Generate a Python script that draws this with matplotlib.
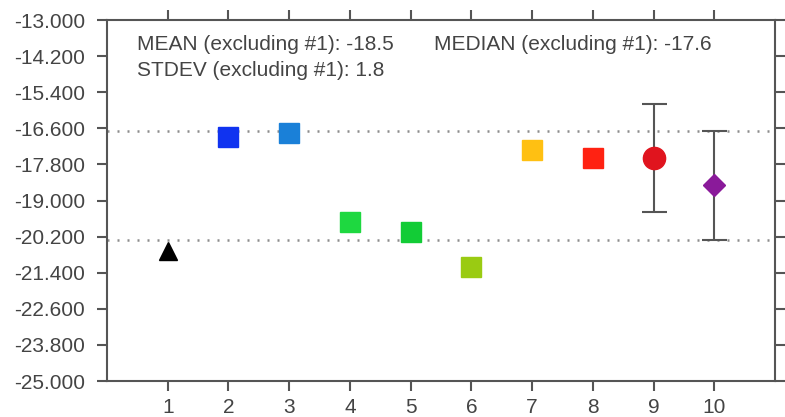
import matplotlib.pyplot as plt
import numpy as np

# model index, value, colour, marker
models = [1, 2, 3, 4, 5, 6, 7, 8, 9, 10]
values = [-20.68, -16.88, -16.75, -19.70, -20.05, -21.20, -17.32, -17.58, -17.58, -18.50]
colors = ['#000000', '#1033f0', '#1a80d8', '#1ed840', '#12cc36', '#9acb12',
          '#ffc012', '#ff2212', '#e0141e', '#8a1a9a']
markers = ['^', 's', 's', 's', 's', 's', 's', 's', 'o', 'D']
sizes = [13, 14, 14, 14, 14, 14, 14, 14, 16, 11]
err_idx = [9, 10]
err_val = [1.8, 1.8]

mean_ex1 = -18.5
median_ex1 = -17.6
stdev_ex1 = 1.8

plt.rcParams['font.family'] = ['Liberation Sans', 'DejaVu Sans']
gray = '#555555'
fs = 15

fig = plt.figure(figsize=(7.85, 4.17), dpi=100)
ax = fig.add_axes([0.1363, 0.0863, 0.851, 0.8657])

ax.axhline(mean_ex1 + stdev_ex1, color='#8c8c8c', lw=1.8, ls=(0, (0.8, 3.2)), zorder=1)
ax.axhline(mean_ex1 - stdev_ex1, color='#8c8c8c', lw=1.8, ls=(0, (0.8, 3.2)), zorder=1)

for i, m in enumerate(models):
    if m in err_idx:
        e = err_val[err_idx.index(m)]
        ax.errorbar(m, values[i], yerr=e, fmt='none', ecolor=gray, elinewidth=1.5,
                    capsize=9, capthick=1.5, zorder=2)
    ax.plot(m, values[i], marker=markers[i], color=colors[i], ms=sizes[i],
            mec=colors[i], ls='none', zorder=3)

ax.set_xlim(0, 11)
ax.set_ylim(-25, -13)
ax.set_xticks(models)
yt = np.arange(-25, -12.9, 1.2)
ax.set_yticks(yt)
ax.set_yticklabels(['%.3f' % v for v in yt])

for s in ax.spines.values():
    s.set_color(gray)
    s.set_linewidth(1.5)
ax.tick_params(axis='both', direction='out', length=7, width=1.5, color=gray,
               labelcolor='#444444', labelsize=fs, top=True, right=True)
ax.tick_params(axis='x', pad=5)
ax.tick_params(axis='y', pad=9)

ax.text(0.045, 0.931, 'MEAN (excluding #1): %.1f' % mean_ex1, transform=ax.transAxes,
        fontsize=fs, color='#444444', va='center')
ax.text(0.045, 0.861, 'STDEV (excluding #1): %.1f' % stdev_ex1, transform=ax.transAxes,
        fontsize=fs, color='#444444', va='center')
ax.text(0.49, 0.931, 'MEDIAN (excluding #1): %.1f' % median_ex1, transform=ax.transAxes,
        fontsize=fs, color='#444444', va='center')

fig.savefig('out.png', dpi=100)
